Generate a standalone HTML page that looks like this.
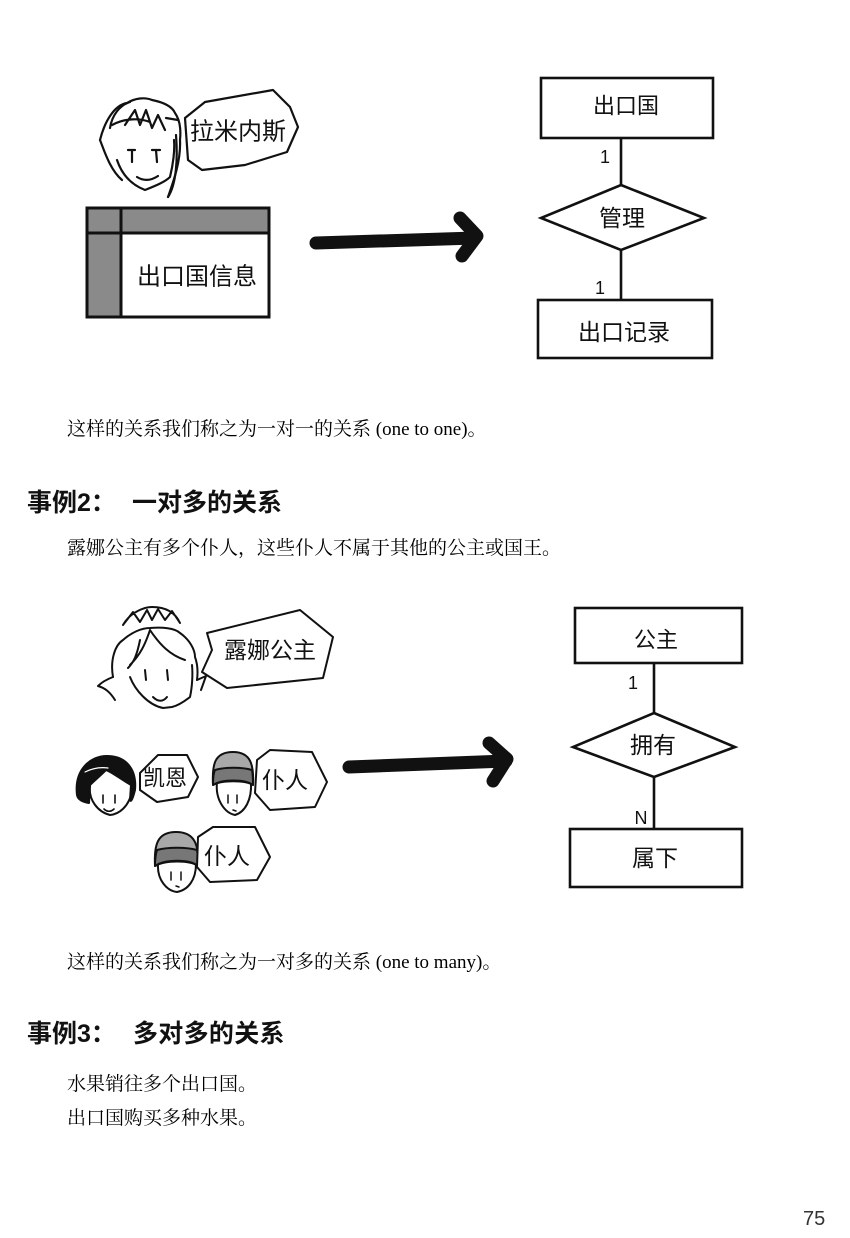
<!DOCTYPE html>
<html><head><meta charset="utf-8">
<style>
html,body{margin:0;padding:0;background:#fff;}
body{width:850px;height:1238px;position:relative;overflow:hidden;}
.t{position:absolute;white-space:nowrap;color:#000;font-family:"Liberation Serif","Noto Serif CJK SC",serif;font-size:19px;line-height:20px;}
.h{position:absolute;white-space:nowrap;color:#111;font-family:"Liberation Sans","Noto Sans CJK SC",sans-serif;font-size:25px;line-height:26px;font-weight:bold;}
svg{position:absolute;left:0;top:0;}
</style></head>
<body>
<svg width="850" height="1238" viewBox="0 0 850 1238" xmlns="http://www.w3.org/2000/svg">
<g fill="none" stroke="#111" stroke-width="2.2" stroke-linejoin="round" stroke-linecap="round">
 <!-- Face 1 -->
 <path d="M100,140 C105,120 115,105 127,103 C135,98 145,97 152,100 C162,102 172,106 175,113 C180,120 181,130 180,140 C181,160 174,180 168,197" />
 <path d="M100,140 C104,150 110,170 122,180" />
 <path d="M117,160 C122,175 132,185 145,190 C155,186 165,182 170,177 C173,165 175,150 174,140" />
 <path d="M110,128 C112,115 120,105 130,102 M112,125 C125,118 140,118 150,122 M125,125 L135,110 L140,125 L146,110 L152,128 L158,115 L165,130 M166,118 L178,120" />
 <path d="M176,135 C178,160 176,185 168,197" />
 <path d="M128,150 L135,150 M132,150 L132,162 M152,150 L160,150 M156,150 L157,162" />
 <path d="M137,177 C145,182 152,180 158,176" />
 <!-- Bubble 1 -->
 <path d="M185,118 L205,102 L273,90 L290,107 L298,127 L287,152 L245,165 L202,170 L188,160 Z" fill="#fff"/>
</g>
<!-- Table -->
<rect x="87" y="208" width="182" height="109" fill="#fff" stroke="#111" stroke-width="3"/>
<rect x="88.5" y="209.5" width="179" height="23" fill="#8a8a8a"/>
<rect x="88.5" y="209.5" width="32" height="106" fill="#8a8a8a"/>
<line x1="87" y1="233" x2="269" y2="233" stroke="#111" stroke-width="3"/>
<line x1="121" y1="208" x2="121" y2="317" stroke="#111" stroke-width="3"/>
<!-- Arrow 1 -->
<g fill="none" stroke="#111" stroke-width="13" stroke-linecap="round" stroke-linejoin="round">
 <path d="M316,243 L475,238"/>
 <path d="M460,218 L477,236 L462,256"/>
</g>
<!-- ER 1 -->
<g fill="none" stroke="#111" stroke-width="2.6">
 <rect x="541" y="78" width="172" height="60" fill="#fff"/>
 <line x1="621" y1="138" x2="621" y2="185"/>
 <path d="M621,185 L704,218 L621,250 L541,218 Z" fill="#fff"/>
 <line x1="621" y1="250" x2="621" y2="300"/>
 <rect x="538" y="300" width="174" height="58" fill="#fff"/>
</g>
<!-- Section 2 princess -->
<g fill="none" stroke="#111" stroke-width="2" stroke-linejoin="round" stroke-linecap="round">
 <path d="M123,625 C130,612 145,607 152,607 C165,607 175,612 180,623 M123,625 L133,612 L140,622 L147,610 L152,620 L158,609 L165,620 L172,611 L180,623" />
 <path d="M113,677 C110,660 115,645 123,640 C132,632 142,628 150,628 C162,627 175,628 180,633 C190,640 195,650 195,657 C198,665 198,672 197,680" />
 <path d="M113,677 C105,680 100,684 98,686 C105,688 110,692 115,700 M197,680 L206,676 L201,690" />
 <path d="M130,677 C135,690 148,705 163,708 L172,707 C180,705 186,700 190,697 C192,688 193,675 192,665" />
 <path d="M150,630 C145,645 140,655 130,665 M150,630 C160,645 170,655 185,660 M140,640 C137,655 134,662 128,668" />
 <path d="M145,670 L146,680 M167,670 L168,680 M153,697 C158,702 163,702 167,697" />
 <!-- Bubble princess -->
 <path d="M207,633 L300,610 L333,637 L323,678 L227,688 L202,672 L212,650 Z" fill="#fff"/>
 <!-- Kain -->
 <path d="M90,785 C88,800 98,812 110,815 C120,814 128,806 131,795" fill="#fff"/>
 <path d="M77,795 C74,770 90,756 107,756 C125,756 137,768 135,790 C133,798 131,803 130,800 L131,785 C122,780 112,772 106,770 C100,776 95,780 90,785 L89,803 C83,802 78,800 77,795 Z" fill="#111"/>
 <path d="M85,772 C93,768 101,767 108,768" stroke="#fff" stroke-width="1.2"/>
 <path d="M103,795 L103,803 M115,795 L115,803 M104,809 C107,812 111,812 114,809" stroke-width="1.6"/>
 <path d="M140,773 L158,755 L187,755 L198,777 L188,797 L157,802 L140,790 Z" fill="#fff"/>
 <!-- Servant 1 -->
 <path d="M217,782 C215,800 225,813 235,815 C245,812 252,800 251,782" fill="#fff"/>
 <path d="M213,785 C212,765 214,752 233,752 C251,752 254,765 253,785 C245,780 222,780 213,785 Z" fill="#a8a8a8"/>
 <path d="M213,785 C213,778 214,772 215,770 C225,767 242,767 252,770 C253,775 253,780 253,785 C245,779 222,779 213,785 Z" fill="#777"/>
 <path d="M228,795 L228,803 M237,795 L237,803 M233,810 L236,811" stroke-width="1.5"/>
 <path d="M257,760 L270,750 L312,752 L327,782 L315,807 L270,810 L255,793 Z" fill="#fff"/>
 <!-- Servant 2 -->
 <path d="M158,864 C157,880 167,891 177,892 C188,890 196,880 196,864" fill="#fff"/>
 <path d="M155,866 C154,845 157,832 176,832 C195,832 199,845 198,866 C190,860 165,860 155,866 Z" fill="#a8a8a8"/>
 <path d="M155,866 C155,858 156,853 157,850 C168,847 186,847 197,850 C198,855 198,860 198,866 C190,859 165,859 155,866 Z" fill="#777"/>
 <path d="M171,872 L171,880 M181,872 L181,880 M176,886 L179,887" stroke-width="1.5"/>
 <path d="M198,837 L213,827 L255,827 L270,857 L257,880 L210,882 L197,867 Z" fill="#fff"/>
</g>
<!-- Arrow 2 -->
<g fill="none" stroke="#111" stroke-width="13" stroke-linecap="round" stroke-linejoin="round">
 <path d="M349,767 L506,761"/>
 <path d="M489,743 L507,759 L493,781"/>
</g>
<!-- ER 2 -->
<g fill="none" stroke="#111" stroke-width="2.6">
 <rect x="575" y="608" width="167" height="55" fill="#fff"/>
 <line x1="654" y1="663" x2="654" y2="713"/>
 <path d="M654,713 L735,747 L654,777 L573,747 Z" fill="#fff"/>
 <line x1="654" y1="777" x2="654" y2="829"/>
 <rect x="570" y="829" width="172" height="58" fill="#fff"/>
</g>
<g font-family="'Liberation Sans','Noto Sans CJK SC',sans-serif" fill="#111" text-anchor="middle" dominant-baseline="central">
 <text x="238" y="132" font-size="24">拉米内斯</text>
 <text x="197" y="277" font-size="24">出口国信息</text>
 <text x="626" y="106" font-size="22">出口国</text>
 <text x="622" y="218" font-size="23">管理</text>
 <text x="624" y="332" font-size="23">出口记录</text>
 <text x="605" y="157" font-size="18">1</text>
 <text x="600" y="288" font-size="18">1</text>
 <text x="270" y="650" font-size="23">露娜公主</text>
 <text x="165" y="778" font-size="22">凯恩</text>
 <text x="285" y="780" font-size="23">仆人</text>
 <text x="227" y="856" font-size="23">仆人</text>
 <text x="656" y="640" font-size="22">公主</text>
 <text x="653" y="745" font-size="23">拥有</text>
 <text x="655" y="858" font-size="23">属下</text>
 <text x="633" y="683" font-size="18">1</text>
 <text x="641" y="818" font-size="18">N</text>
</g>
<text x="803" y="1225" font-family="'Liberation Sans',sans-serif" font-size="20" fill="#333">75</text>
</svg>

<div class="t" style="left:67px;top:420px;">这样的关系我们称之为一对一的关系 (one to one)。</div>
<div class="h" style="left:27px;top:490px;">事例2：</div>
<div class="h" style="left:132px;top:490px;">一对多的关系</div>
<div class="t" style="left:67px;top:539px;">露娜公主有多个仆人，这些仆人不属于其他的公主或国王。</div>
<div class="t" style="left:67px;top:953px;">这样的关系我们称之为一对多的关系 (one to many)。</div>
<div class="h" style="left:27px;top:1021px;">事例3：</div>
<div class="h" style="left:133px;top:1021px;letter-spacing:0.3px;">多对多的关系</div>
<div class="t" style="left:67px;top:1075px;">水果销往多个出口国。</div>
<div class="t" style="left:67px;top:1109px;">出口国购买多种水果。</div>
</body></html>
